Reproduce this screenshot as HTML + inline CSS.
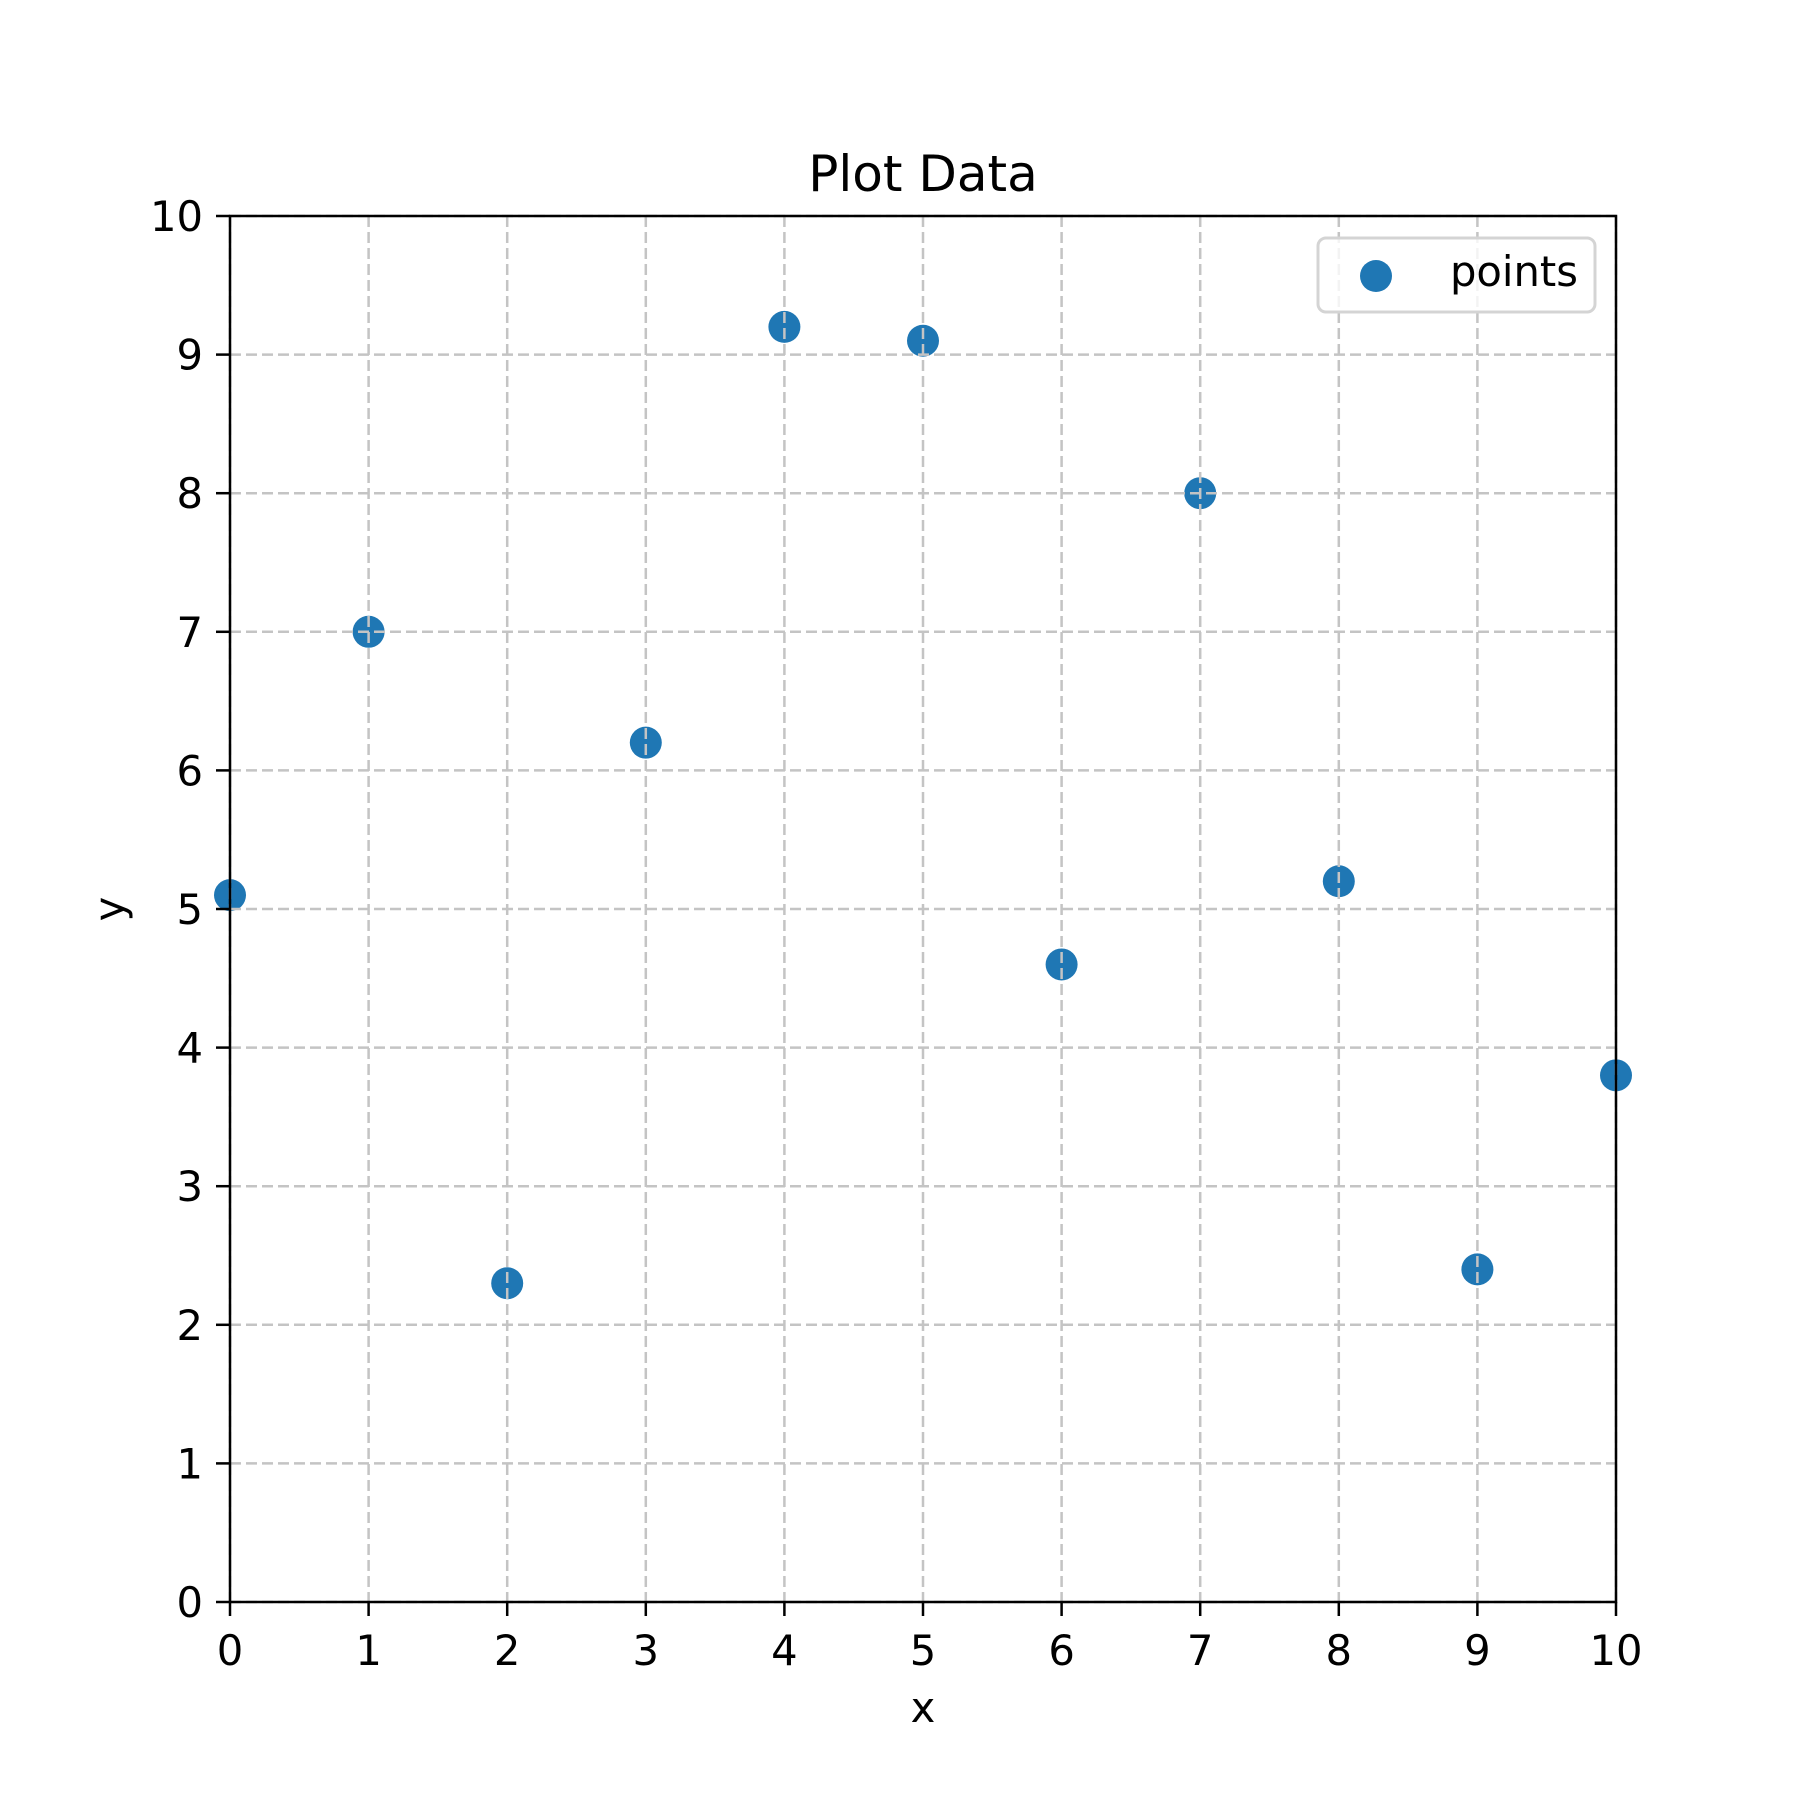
<!DOCTYPE html>
<html><head><meta charset="utf-8"><style>
html,body{margin:0;padding:0;background:#fff}
svg{display:block;font-family:"DejaVu Sans","Liberation Sans",sans-serif}
</style></head><body>
<svg id="chart" width="1800" height="1800" viewBox="0 0 1800 1800">
<rect width="1800" height="1800" fill="#fff"/>
<g id="pts"></g>
<g id="grid"></g>
<g id="ticks"></g>
<rect x="230" y="216" width="1386" height="1386" fill="none" stroke="#000" stroke-width="2.5"/>
<text x="923" y="191" font-size="50" text-anchor="middle">Plot Data</text>
<text x="923" y="1722" font-size="41.7" text-anchor="middle">x</text>
<text x="0" y="0" font-size="41.7" text-anchor="middle" transform="translate(124,909) rotate(-90)">y</text>
<g>
<rect x="1318" y="238" width="277" height="74" rx="8" fill="#fff" fill-opacity="0.8" stroke="#d4d4d4" stroke-width="3"/>
<circle cx="1376" cy="276" r="16" fill="#1f77b4"/>
<text x="1578" y="286" font-size="41.7" text-anchor="end">points</text>
</g>
</svg>
<script>
const xValues=[0,1,2,3,4,5,6,7,8,9,10];
const yValues=[5.1,7,2.3,6.2,9.2,9.1,4.6,8,5.2,2.4,3.8];
const xTicks=[0,1,2,3,4,5,6,7,8,9,10];
const yTicks=[0,1,2,3,4,5,6,7,8,9,10];
const NS="http://www.w3.org/2000/svg";
const L=230,R=1616,T=216,B=1602;
function sx(v){return L+(v-0)/(10-0)*(R-L);}
function sy(v){return B-(v-0)/(10-0)*(B-T);}
function mk(tag,attrs,parent){const e=document.createElementNS(NS,tag);for(const k in attrs)e.setAttribute(k,attrs[k]);parent.appendChild(e);return e;}
const grid=document.getElementById('grid'),ticks=document.getElementById('ticks'),pts=document.getElementById('pts');
xTicks.forEach(t=>{
  const x=sx(t);
  const g=mk('line',{x1:x,x2:x,y1:T,y2:B,stroke:'#c4c4c4','stroke-width':2.5,'stroke-dasharray':'11 5'},grid);
  
  
  const tk=mk('line',{x1:x,x2:x,y1:B,y2:B+14,stroke:'#000','stroke-width':2.5},ticks);
  
  
  const tx=mk('text',{x:x,y:1665,'font-size':41.7,'text-anchor':'middle'},ticks);
  tx.textContent=t;
  
  
});
yTicks.forEach(t=>{
  const y=sy(t);
  const g=mk('line',{x1:L,x2:R,y1:y,y2:y,stroke:'#c4c4c4','stroke-width':2.5,'stroke-dasharray':'11 5'},grid);
  
  
  const tk=mk('line',{x1:L-14,x2:L,y1:y,y2:y,stroke:'#000','stroke-width':2.5},ticks);
  
  
  const tx=mk('text',{x:203,y:y+15,'font-size':41.7,'text-anchor':'end'},ticks);
  tx.textContent=t;
  
  
});
xValues.forEach((xv,i)=>{
  const c=mk('circle',{cx:sx(xv),cy:sy(yValues[i]),r:16,fill:'#1f77b4'},pts);
  
  
});
</script>
</body></html>
